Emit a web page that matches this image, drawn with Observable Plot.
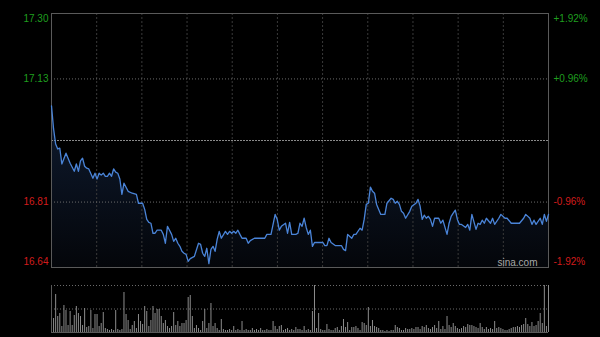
<!DOCTYPE html>
<html>
<head>
<meta charset="utf-8">
<script src="https://cdn.jsdelivr.net/npm/d3@7"></script>
<script src="https://cdn.jsdelivr.net/npm/@observablehq/plot@0.6"></script>
<style>
  html, body { margin: 0; padding: 0; background: #000; }
  #chart { width: 600px; height: 337px; background: #000; }
  #chart svg { display: block; }
</style>
</head>
<body>
<div id="chart"></div>
<script>
// ---- data ----
const prevClose = 16.97;
const priceTicks = [17.30, 17.13, 16.81, 16.64];
const pctLabels = ["+1.92%", "+0.96%", "-0.96%", "-1.92%"];
const minutes = [0,1,2,3,4,5,7,8,9,11,12,13,14,15,16,17,18,20,21,22,23,24,25,26,27,28,29,30,31,32,33,34,35,37,39,41,42,44,45,46,47,48,49,50,51,53,54,55,56,58,59,60,61,62,63,64,65,66,67,69,71,72,73,74,75,76,77,78,79,80,81,82,84,85,86,87,88,89,90,91,92,94,95,96,98,103,104,106,108,109,110,111,113,114,115,116,118,119,120,121,122,123,124,125,126,127,131,132,133,134,135,137,140,141,142,143,145,146,147,149,150,151,152,153,154,155,156,157,159,161,162,164,165,166,167,168,169,170,171,173,174,176,177,178,179,180,181,182,183,184,185,187,188,189,191,192,193,194,195,196,197,198,200,201,202,203,205,206,207,208,209,210,212,213,214,216,217,219,220,222,226,228,229,231,232,233,234,236,237,238,239,240];
const prices = [17.060,17.000,16.961,16.948,16.950,16.909,16.937,16.924,16.911,16.890,16.909,16.890,16.917,16.924,16.903,16.898,16.896,16.872,16.885,16.870,16.885,16.880,16.885,16.877,16.877,16.885,16.877,16.896,16.888,16.885,16.870,16.830,16.859,16.838,16.833,16.830,16.807,16.807,16.791,16.765,16.757,16.755,16.729,16.729,16.737,16.737,16.726,16.703,16.747,16.726,16.708,16.716,16.703,16.695,16.682,16.677,16.674,16.656,16.663,16.669,16.703,16.700,16.677,16.669,16.690,16.650,16.687,16.695,16.682,16.713,16.734,16.716,16.734,16.726,16.734,16.729,16.734,16.729,16.737,16.726,16.716,16.716,16.703,16.710,16.716,16.716,16.726,16.726,16.778,16.765,16.737,16.747,16.755,16.729,16.757,16.726,16.726,16.729,16.755,16.747,16.768,16.744,16.726,16.737,16.695,16.705,16.705,16.697,16.697,16.716,16.705,16.697,16.697,16.687,16.684,16.726,16.716,16.726,16.726,16.742,16.737,16.765,16.804,16.807,16.849,16.838,16.833,16.804,16.778,16.778,16.807,16.820,16.817,16.807,16.812,16.804,16.786,16.781,16.768,16.786,16.799,16.807,16.817,16.799,16.765,16.776,16.768,16.773,16.765,16.747,16.768,16.768,16.755,16.763,16.726,16.755,16.773,16.781,16.789,16.765,16.752,16.752,16.744,16.752,16.737,16.778,16.739,16.755,16.752,16.763,16.755,16.768,16.755,16.768,16.752,16.768,16.778,16.768,16.768,16.755,16.755,16.768,16.778,16.768,16.752,16.763,16.752,16.768,16.752,16.778,16.760,16.778];
// volume per minute (10k shares), minute 0..240
const volumes = [12,14,38,16,19,6,27,22,7,21,7,17,26,19,16,7,24,5,6,22,4,18,18,6,9,20,4,3,2,3,2,22,3,2,3,40,18,12,3,7,11,4,18,11,8,26,21,6,12,26,19,23,23,16,9,12,6,4,6,20,7,11,6,9,9,12,35,37,16,4,7,4,2,11,23,4,9,29,6,9,4,2,13,3,2,2,3,2,6,2,3,2,11,2,3,2,2,4,2,3,2,4,2,2,3,2,2,11,6,3,6,7,2,3,4,2,3,2,5,3,3,2,6,2,3,2,21,47,4,19,3,2,2,8,3,2,2,4,5,2,6,13,5,10,2,5,5,6,4,2,10,9,7,25,6,12,6,5,4,2,2,1,2,1,2,2,7,5,4,2,2,4,3,3,4,3,5,5,3,6,5,7,4,3,5,7,4,11,3,6,3,16,7,5,9,6,4,3,4,6,5,8,7,7,6,5,4,9,5,3,5,3,4,3,11,4,5,4,3,2,2,3,4,5,5,6,5,7,8,14,8,6,10,6,7,11,19,9,47,6,47];
const sessionMinutes = 240;
const gridDivisions = 11;

// ---- derived ----
const series = minutes.map((t, i) => ({t, p: prices[i]}));
const vol = volumes.map((v, i) => ({t: i, v}));
const yMin = d3.min(priceTicks), yMax = d3.max(priceTicks);
const vGrid = d3.range(1, gridDivisions).map(i => i * sessionMinutes / gridDivisions);
const ticks = priceTicks.map((p, i) => ({p, pct: pctLabels[i], up: p > prevClose}));
const GREEN = "#1f9e1f", RED = "#d21c1c";
const FONT = "'Liberation Sans', Arial, sans-serif";

const gradient = () => {
  const ns = "http://www.w3.org/2000/svg";
  const defs = document.createElementNS(ns, "defs");
  const lg = document.createElementNS(ns, "linearGradient");
  lg.setAttribute("id", "areaGrad");
  lg.setAttribute("x1", "0"); lg.setAttribute("y1", "0");
  lg.setAttribute("x2", "0"); lg.setAttribute("y2", "1");
  [["0", "#0f1b30"], ["1", "#04060a"]].forEach(([o, c]) => {
    const s = document.createElementNS(ns, "stop");
    s.setAttribute("offset", o); s.setAttribute("stop-color", c);
    lg.appendChild(s);
  });
  defs.appendChild(lg);
  return defs;
};

const main = Plot.plot({
  width: 600, height: 270,
  marginLeft: 51, marginRight: 52, marginTop: 13, marginBottom: 3,
  style: {background: "#000", fontFamily: FONT, fontSize: "10px", overflow: "visible"},
  x: {domain: [0, sessionMinutes], axis: null},
  y: {domain: [yMin, yMax], axis: null},
  marks: [
    gradient,
    Plot.areaY(series, {x: "t", y1: () => yMin, y2: "p", fill: "url(#areaGrad)"}),
    Plot.ruleX(vGrid, {stroke: "#3a3a3a", strokeDasharray: "2,2"}),
    Plot.ruleY(priceTicks.filter(p => p !== yMin && p !== yMax), {stroke: "#6a6a6a", strokeDasharray: "1,2"}),
    Plot.ruleY([prevClose], {stroke: "#8a8a8a", strokeDasharray: "2,1"}),
    Plot.frame({stroke: "#5a5a5a"}),
    Plot.line(series, {x: "t", y: "p", stroke: "#4a84d8", strokeWidth: 1.3}),
    // left price labels
    Plot.text(ticks.filter(d => d.p === yMax), {y: "p", text: d => d.p.toFixed(2), frameAnchor: "left", dx: -3, dy: 1, textAnchor: "end", lineAnchor: "top", fill: d => d.up ? GREEN : RED}),
    Plot.text(ticks.filter(d => d.p !== yMax && d.p !== yMin), {y: "p", text: d => d.p.toFixed(2), frameAnchor: "left", dx: -3, textAnchor: "end", fill: d => d.up ? GREEN : RED}),
    Plot.text(ticks.filter(d => d.p === yMin), {y: "p", text: d => d.p.toFixed(2), frameAnchor: "left", dx: -3, dy: -3, textAnchor: "end", lineAnchor: "bottom", fill: d => d.up ? GREEN : RED}),
    // right pct labels
    Plot.text(ticks.filter(d => d.p === yMax), {y: "p", text: "pct", frameAnchor: "right", dx: 5, dy: 1, textAnchor: "start", lineAnchor: "top", fill: d => d.up ? GREEN : RED}),
    Plot.text(ticks.filter(d => d.p !== yMax && d.p !== yMin), {y: "p", text: "pct", frameAnchor: "right", dx: 5, textAnchor: "start", fill: d => d.up ? GREEN : RED}),
    Plot.text(ticks.filter(d => d.p === yMin), {y: "p", text: "pct", frameAnchor: "right", dx: 5, dy: -3, textAnchor: "start", lineAnchor: "bottom", fill: d => d.up ? GREEN : RED}),
    Plot.text(["sina.com"], {frameAnchor: "bottom-right", dx: -11, dy: -2, lineAnchor: "bottom", textAnchor: "end", fill: "#a8a8a8", fontSize: 10})
  ]
});

const volMax = d3.max(volumes);
const volPlot = Plot.plot({
  width: 600, height: 67,
  marginLeft: 51, marginRight: 52, marginTop: 15, marginBottom: 5,
  style: {background: "#000", overflow: "visible"},
  x: {domain: [0, sessionMinutes], axis: null},
  y: {domain: [0, volMax], axis: null},
  marks: [
    Plot.ruleY([volMax, volMax / 2], {stroke: "#6a6a6a", strokeDasharray: "1,2"}),
    Plot.ruleX(vol, {x: "t", y1: 0, y2: "v", stroke: "#8c8c8c", strokeWidth: 1}),
    Plot.ruleY([0], {stroke: "#5a5a5a"}),
    Plot.ruleX([0], {stroke: "#5a5a5a"})
  ]
});

const chart = document.getElementById("chart");
chart.appendChild(main);
chart.appendChild(volPlot);
</script>
</body>
</html>
